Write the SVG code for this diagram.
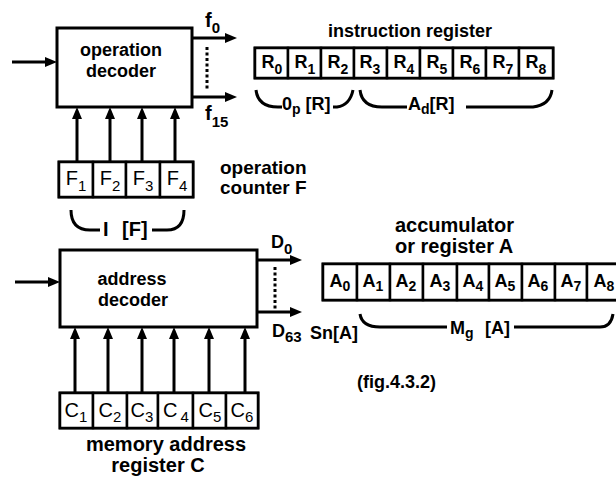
<svg xmlns="http://www.w3.org/2000/svg" width="616" height="477" viewBox="0 0 616 477">
<style>
text{font-family:"Liberation Sans",Arial,sans-serif;fill:#000}
.b{font-weight:bold}
.t18{font-size:18px;font-weight:bold}
.t20{font-size:20px;font-weight:bold}
.box{fill:#fff;stroke:#000;stroke-width:3}
.cell{fill:#fff;stroke:#000;stroke-width:2.5}
.ln{stroke:#000;stroke-width:3;fill:none}
.dot{stroke:#000;stroke-width:3;stroke-dasharray:3 2.5;fill:none}
.br{stroke:#000;stroke-width:3;fill:none}
.rl{font-size:18px;font-weight:bold}
.fl{font-size:20px}
.sub{font-size:14px}
</style>
<defs>
<marker id="ah" markerUnits="userSpaceOnUse" markerWidth="14" markerHeight="12" refX="2" refY="5" orient="auto">
<path d="M0,0 L12,5 L0,10 z" fill="#000"/>
</marker>
</defs>

<g id="connectors">
<line class="ln" x1="12" y1="62" x2="47" y2="62" marker-end="url(#ah)"/>
<line class="ln" x1="192" y1="38" x2="227" y2="38" marker-end="url(#ah)"/>
<line class="ln" x1="192" y1="97" x2="227" y2="97" marker-end="url(#ah)"/>
<line class="dot" x1="207" y1="47" x2="207" y2="90"/>
<line class="ln" x1="77" y1="162" x2="77" y2="117" marker-end="url(#ah)"/>
<line class="ln" x1="110" y1="162" x2="110" y2="117" marker-end="url(#ah)"/>
<line class="ln" x1="142" y1="162" x2="142" y2="117" marker-end="url(#ah)"/>
<line class="ln" x1="175" y1="162" x2="175" y2="117" marker-end="url(#ah)"/>
<line class="ln" x1="15" y1="282" x2="50" y2="282" marker-end="url(#ah)"/>
<line class="ln" x1="257" y1="260" x2="292" y2="260" marker-end="url(#ah)"/>
<line class="ln" x1="257" y1="312" x2="292" y2="312" marker-end="url(#ah)"/>
<line class="dot" x1="275" y1="267" x2="275" y2="309"/>
<line class="ln" x1="75" y1="393" x2="75" y2="337" marker-end="url(#ah)"/>
<line class="ln" x1="108" y1="393" x2="108" y2="337" marker-end="url(#ah)"/>
<line class="ln" x1="142" y1="393" x2="142" y2="337" marker-end="url(#ah)"/>
<line class="ln" x1="174" y1="393" x2="174" y2="337" marker-end="url(#ah)"/>
<line class="ln" x1="209" y1="393" x2="209" y2="337" marker-end="url(#ah)"/>
<line class="ln" x1="245" y1="393" x2="245" y2="337" marker-end="url(#ah)"/>
</g>

<g id="operation-decoder">
<rect class="box" x="57" y="28" width="135" height="79"/>
<text class="t18" x="121" y="56" text-anchor="middle">operation</text>
<text class="t18" x="121" y="77" text-anchor="middle">decoder</text>
</g>

<g id="f-labels">
<text class="b" font-size="20" x="205" y="27">f<tspan font-size="15" dy="6">0</tspan></text>
<text class="b" font-size="20" x="205" y="120">f<tspan font-size="15" dy="7">15</tspan></text>
</g>

<g id="instruction-register">
<text class="t18" x="410" y="37" text-anchor="middle">instruction register</text>
<rect class="box" x="255" y="48" width="298" height="30"/>
<rect class="cell" x="255" y="48" width="33" height="30"/>
<rect class="cell" x="288" y="48" width="33" height="30"/>
<rect class="cell" x="321" y="48" width="33" height="30"/>
<rect class="cell" x="354" y="48" width="33" height="30"/>
<rect class="cell" x="387" y="48" width="33" height="30"/>
<rect class="cell" x="420" y="48" width="33" height="30"/>
<rect class="cell" x="453" y="48" width="33" height="30"/>
<rect class="cell" x="486" y="48" width="33" height="30"/>
<rect class="cell" x="519" y="48" width="34" height="30"/>
<text class="rl" x="272" y="68" text-anchor="middle">R<tspan class="sub" dy="6">0</tspan></text>
<text class="rl" x="305" y="68" text-anchor="middle">R<tspan class="sub" dy="6">1</tspan></text>
<text class="rl" x="338" y="68" text-anchor="middle">R<tspan class="sub" dy="6">2</tspan></text>
<text class="rl" x="370" y="68" text-anchor="middle">R<tspan class="sub" dy="6">3</tspan></text>
<text class="rl" x="404" y="68" text-anchor="middle">R<tspan class="sub" dy="6">4</tspan></text>
<text class="rl" x="437" y="68" text-anchor="middle">R<tspan class="sub" dy="6">5</tspan></text>
<text class="rl" x="470" y="68" text-anchor="middle">R<tspan class="sub" dy="6">6</tspan></text>
<text class="rl" x="503" y="68" text-anchor="middle">R<tspan class="sub" dy="6">7</tspan></text>
<text class="rl" x="536" y="68" text-anchor="middle">R<tspan class="sub" dy="6">8</tspan></text>
</g>

<g id="op-brace">
<path class="br" d="M256,90 Q258,107 278,107 H282"/>
<path class="br" d="M333,107 H337 Q350,105 353,90"/>
<text class="t18" x="282" y="110">0<tspan class="sub" dy="4">p</tspan><tspan dy="-4"> [R]</tspan></text>
</g>

<g id="ad-brace">
<path class="br" d="M360,90 Q362,107 382,107 H407"/>
<path class="br" d="M466,107 H533 Q550,105 552,90"/>
<text class="t18" x="408" y="110">A<tspan class="sub" dy="4">d</tspan><tspan dy="-4">[R]</tspan></text>
</g>

<g id="operation-counter">
<rect class="box" x="59" y="162" width="134" height="35"/>
<rect class="cell" x="59" y="162" width="34" height="35"/>
<rect class="cell" x="93" y="162" width="33" height="35"/>
<rect class="cell" x="126" y="162" width="34" height="35"/>
<rect class="cell" x="160" y="162" width="33" height="35"/>
<text class="fl" x="76" y="185" text-anchor="middle">F<tspan font-size="15" dy="6">1</tspan></text>
<text class="fl" x="110" y="185" text-anchor="middle">F<tspan font-size="15" dy="6">2</tspan></text>
<text class="fl" x="143" y="185" text-anchor="middle">F<tspan font-size="15" dy="6">3</tspan></text>
<text class="fl" x="177" y="185" text-anchor="middle">F<tspan font-size="15" dy="6">4</tspan></text>
<text class="b" font-size="19" x="220" y="174">operation</text>
<text class="b" font-size="19" x="220" y="194">counter F</text>
</g>

<g id="i-brace">
<path class="br" d="M71,210 Q71,230 90,230 H100"/>
<path class="br" d="M152,230 H167 Q184,230 184,210"/>
<text class="t20" x="103" y="236">I</text>
<text class="t20" x="122" y="236">[F]</text>
</g>

<g id="address-decoder">
<rect class="box" x="60" y="250" width="197" height="77"/>
<text class="t18" x="132" y="285" text-anchor="middle">address</text>
<text class="t18" x="133" y="306" text-anchor="middle">decoder</text>
</g>

<g id="d-labels">
<text class="t18" x="271" y="248">D<tspan font-size="15" dy="6">0</tspan></text>
<text class="t18" x="272" y="337">D<tspan font-size="15" dy="5">63</tspan></text>
<text class="t18" x="310" y="339">Sn[A]</text>
</g>

<g id="accumulator">
<text class="t20" x="395" y="232">accumulator</text>
<text class="t20" x="395" y="253">or register A</text>
<rect class="box" x="323" y="264" width="297" height="36"/>
<rect class="cell" x="323" y="264" width="34" height="36"/>
<rect class="cell" x="357" y="264" width="33" height="36"/>
<rect class="cell" x="390" y="264" width="33" height="36"/>
<rect class="cell" x="423" y="264" width="34" height="36"/>
<rect class="cell" x="457" y="264" width="32" height="36"/>
<rect class="cell" x="489" y="264" width="33" height="36"/>
<rect class="cell" x="522" y="264" width="33" height="36"/>
<rect class="cell" x="555" y="264" width="32" height="36"/>
<rect class="cell" x="587" y="264" width="33" height="36"/>
<text class="rl" x="340" y="287" text-anchor="middle">A<tspan class="sub" dy="4">0</tspan></text>
<text class="rl" x="373" y="287" text-anchor="middle">A<tspan class="sub" dy="4">1</tspan></text>
<text class="rl" x="406" y="287" text-anchor="middle">A<tspan class="sub" dy="4">2</tspan></text>
<text class="rl" x="440" y="287" text-anchor="middle">A<tspan class="sub" dy="4">3</tspan></text>
<text class="rl" x="473" y="287" text-anchor="middle">A<tspan class="sub" dy="4">4</tspan></text>
<text class="rl" x="505" y="287" text-anchor="middle">A<tspan class="sub" dy="4">5</tspan></text>
<text class="rl" x="538" y="287" text-anchor="middle">A<tspan class="sub" dy="4">6</tspan></text>
<text class="rl" x="571" y="287" text-anchor="middle">A<tspan class="sub" dy="4">7</tspan></text>
<text class="rl" x="604" y="287" text-anchor="middle">A<tspan class="sub" dy="4">8</tspan></text>
</g>

<g id="mg-brace">
<path class="br" d="M360,314 Q362,327 380,327 H447"/>
<path class="br" d="M514,327 H600 Q611,327 613,314"/>
<text class="t18" x="450" y="334">M<tspan class="sub" dy="4">g</tspan><tspan dy="-4" x="485">[A]</tspan></text>
</g>

<g id="memory-address-register">
<rect class="box" x="60" y="393" width="198" height="35"/>
<rect class="cell" x="60" y="393" width="33" height="35"/>
<rect class="cell" x="93" y="393" width="34" height="35"/>
<rect class="cell" x="127" y="393" width="31" height="35"/>
<rect class="cell" x="158" y="393" width="35" height="35"/>
<rect class="cell" x="193" y="393" width="33" height="35"/>
<rect class="cell" x="226" y="393" width="32" height="35"/>
<text class="fl" x="76" y="417" text-anchor="middle">C<tspan font-size="15" dy="5">1</tspan></text>
<text class="fl" x="110" y="417" text-anchor="middle">C<tspan font-size="15" dy="5">2</tspan></text>
<text class="fl" x="142" y="417" text-anchor="middle">C<tspan font-size="15" dy="5">3</tspan></text>
<text class="fl" x="176" y="417" text-anchor="middle">C<tspan font-size="15" dy="5" dx="3">4</tspan></text>
<text class="fl" x="210" y="417" text-anchor="middle">C<tspan font-size="15" dy="5">5</tspan></text>
<text class="fl" x="242" y="417" text-anchor="middle">C<tspan font-size="15" dy="5">6</tspan></text>
<text class="t20" x="166" y="451" text-anchor="middle">memory address</text>
<text class="t20" x="158" y="472" text-anchor="middle">register C</text>
</g>

<g id="caption">
<text class="t18" x="357" y="388" font-size="19">(fig.4.3.2)</text>
</g>
</svg>
